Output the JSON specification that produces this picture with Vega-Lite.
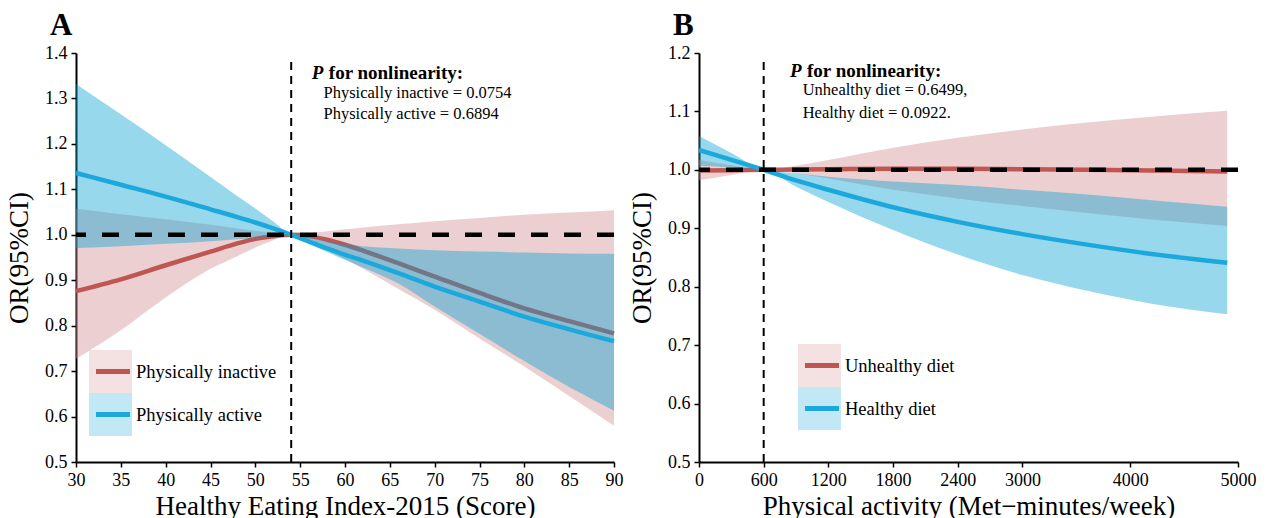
{
  "$schema": "https://vega.github.io/schema/vega-lite/v6.json",
  "background": "white",
  "padding": {"left": 5, "top": 10, "right": 5, "bottom": 0},
  "spacing": 5,
  "config": {
    "font": "Liberation Serif",
    "view": {"stroke": null},
    "axis": {
      "grid": false,
      "domainColor": "black",
      "domainWidth": 2,
      "tickColor": "black",
      "tickWidth": 1.5,
      "tickSize": 5,
      "labelColor": "black",
      "labelFont": "Liberation Serif",
      "labelFontSize": 18,
      "labelPadding": 4,
      "labelFlush": false,
      "titleFont": "Liberation Serif",
      "titleFontSize": 27,
      "titleFontWeight": "normal",
      "titleColor": "black"
    }
  },
  "datasets": {
    "a": [
      {"s": 30, "g": "Physically inactive", "lo": 0.727, "mid": 0.876, "hi": 1.057},
      {"s": 35, "g": "Physically inactive", "lo": 0.790, "mid": 0.902, "hi": 1.045},
      {"s": 40, "g": "Physically inactive", "lo": 0.862, "mid": 0.933, "hi": 1.034},
      {"s": 45, "g": "Physically inactive", "lo": 0.925, "mid": 0.963, "hi": 1.022},
      {"s": 48, "g": "Physically inactive", "lo": 0.953, "mid": 0.981, "hi": 1.014},
      {"s": 50, "g": "Physically inactive", "lo": 0.972, "mid": 0.991, "hi": 1.009},
      {"s": 52, "g": "Physically inactive", "lo": 0.988, "mid": 0.997, "hi": 1.004},
      {"s": 54, "g": "Physically inactive", "lo": 1.0, "mid": 1.0, "hi": 1.0},
      {"s": 56, "g": "Physically inactive", "lo": 0.985, "mid": 0.997, "hi": 1.004},
      {"s": 58, "g": "Physically inactive", "lo": 0.966, "mid": 0.989, "hi": 1.008},
      {"s": 60, "g": "Physically inactive", "lo": 0.946, "mid": 0.978, "hi": 1.012},
      {"s": 62, "g": "Physically inactive", "lo": 0.925, "mid": 0.965, "hi": 1.016},
      {"s": 66, "g": "Physically inactive", "lo": 0.880, "mid": 0.937, "hi": 1.023},
      {"s": 70, "g": "Physically inactive", "lo": 0.835, "mid": 0.908, "hi": 1.030},
      {"s": 75, "g": "Physically inactive", "lo": 0.772, "mid": 0.872, "hi": 1.037},
      {"s": 80, "g": "Physically inactive", "lo": 0.710, "mid": 0.838, "hi": 1.044},
      {"s": 85, "g": "Physically inactive", "lo": 0.645, "mid": 0.810, "hi": 1.049},
      {"s": 90, "g": "Physically inactive", "lo": 0.580, "mid": 0.783, "hi": 1.054},
      {"s": 30, "g": "Physically active", "lo": 0.971, "mid": 1.136, "hi": 1.332},
      {"s": 35, "g": "Physically active", "lo": 0.975, "mid": 1.110, "hi": 1.265},
      {"s": 40, "g": "Physically active", "lo": 0.980, "mid": 1.084, "hi": 1.197},
      {"s": 45, "g": "Physically active", "lo": 0.986, "mid": 1.056, "hi": 1.127},
      {"s": 48, "g": "Physically active", "lo": 0.990, "mid": 1.039, "hi": 1.085},
      {"s": 50, "g": "Physically active", "lo": 0.993, "mid": 1.027, "hi": 1.058},
      {"s": 52, "g": "Physically active", "lo": 0.997, "mid": 1.014, "hi": 1.029},
      {"s": 54, "g": "Physically active", "lo": 1.0, "mid": 1.0, "hi": 1.0},
      {"s": 56, "g": "Physically active", "lo": 0.980, "mid": 0.985, "hi": 0.993},
      {"s": 58, "g": "Physically active", "lo": 0.962, "mid": 0.970, "hi": 0.986},
      {"s": 60, "g": "Physically active", "lo": 0.945, "mid": 0.956, "hi": 0.980},
      {"s": 62, "g": "Physically active", "lo": 0.928, "mid": 0.943, "hi": 0.975},
      {"s": 66, "g": "Physically active", "lo": 0.892, "mid": 0.915, "hi": 0.970},
      {"s": 70, "g": "Physically active", "lo": 0.842, "mid": 0.886, "hi": 0.966},
      {"s": 75, "g": "Physically active", "lo": 0.782, "mid": 0.853, "hi": 0.963},
      {"s": 80, "g": "Physically active", "lo": 0.722, "mid": 0.820, "hi": 0.961},
      {"s": 85, "g": "Physically active", "lo": 0.665, "mid": 0.792, "hi": 0.959},
      {"s": 90, "g": "Physically active", "lo": 0.613, "mid": 0.766, "hi": 0.958}
    ],
    "b": [
      {"p": 0, "g": "Unhealthy diet", "lo": 0.982, "mid": 0.999, "hi": 1.017},
      {"p": 300, "g": "Unhealthy diet", "lo": 0.991, "mid": 0.9995, "hi": 1.008},
      {"p": 600, "g": "Unhealthy diet", "lo": 1.0, "mid": 1.0, "hi": 1.0},
      {"p": 900, "g": "Unhealthy diet", "lo": 0.994, "mid": 1.0005, "hi": 1.007},
      {"p": 1200, "g": "Unhealthy diet", "lo": 0.985, "mid": 1.001, "hi": 1.017},
      {"p": 1800, "g": "Unhealthy diet", "lo": 0.966, "mid": 1.002, "hi": 1.038},
      {"p": 2400, "g": "Unhealthy diet", "lo": 0.951, "mid": 1.002, "hi": 1.055},
      {"p": 3000, "g": "Unhealthy diet", "lo": 0.938, "mid": 1.001, "hi": 1.069},
      {"p": 3600, "g": "Unhealthy diet", "lo": 0.926, "mid": 1.0, "hi": 1.081},
      {"p": 4200, "g": "Unhealthy diet", "lo": 0.915, "mid": 0.999, "hi": 1.091},
      {"p": 4900, "g": "Unhealthy diet", "lo": 0.904, "mid": 0.997, "hi": 1.101},
      {"p": 0, "g": "Healthy diet", "lo": 1.007, "mid": 1.034, "hi": 1.058},
      {"p": 300, "g": "Healthy diet", "lo": 1.004, "mid": 1.017, "hi": 1.029},
      {"p": 600, "g": "Healthy diet", "lo": 1.0, "mid": 1.0, "hi": 1.0},
      {"p": 900, "g": "Healthy diet", "lo": 0.971, "mid": 0.982, "hi": 0.994},
      {"p": 1200, "g": "Healthy diet", "lo": 0.945, "mid": 0.966, "hi": 0.988},
      {"p": 1800, "g": "Healthy diet", "lo": 0.897, "mid": 0.936, "hi": 0.980},
      {"p": 2400, "g": "Healthy diet", "lo": 0.855, "mid": 0.911, "hi": 0.974},
      {"p": 3000, "g": "Healthy diet", "lo": 0.820, "mid": 0.890, "hi": 0.966},
      {"p": 3600, "g": "Healthy diet", "lo": 0.793, "mid": 0.872, "hi": 0.958},
      {"p": 4200, "g": "Healthy diet", "lo": 0.771, "mid": 0.856, "hi": 0.948},
      {"p": 4900, "g": "Healthy diet", "lo": 0.753, "mid": 0.841, "hi": 0.937}
    ]
  },
  "hconcat": [
    {
      "width": 538,
      "height": 409,
      "title": {"text": "A", "anchor": "start", "frame": "group", "dx": -26, "fontSize": 31, "fontWeight": "bold", "font": "Liberation Serif", "color": "black", "offset": 2},
      "layer": [
        {
          "data": {"name": "a"},
          "transform": [{"filter": "datum.g == 'Physically inactive'"}],
          "mark": {"type": "area", "fillOpacity": 0.42, "interpolate": "monotone"},
          "encoding": {
            "x": {"field": "s", "type": "quantitative", "scale": {"domain": [30, 90], "nice": false, "zero": false},
                  "axis": {"values": [30, 35, 40, 45, 50, 55, 60, 65, 70, 75, 80, 85, 90], "title": "Healthy Eating Index-2015 (Score)", "titlePadding": 4}},
            "y": {"field": "lo", "type": "quantitative", "scale": {"domain": [0.5, 1.4], "nice": false, "zero": false},
                  "axis": {"values": [0.5, 0.6, 0.7, 0.8, 0.9, 1.0, 1.1, 1.2, 1.3, 1.4], "format": ".1f", "title": "OR(95%CI)", "titlePadding": 11}},
            "y2": {"field": "hi"},
            "fill": {"field": "g", "type": "nominal",
                     "scale": {"domain": ["Physically inactive", "Physically active"], "range": ["#D28D8F", "#07A2D2"]},
                     "legend": {"orient": "none", "legendX": 13, "legendY": 297, "title": null, "symbolType": "square", "symbolSize": 1849, "symbolOpacity": 0.25, "symbolStrokeWidth": 0, "labelFontSize": 18.5, "labelFont": "Liberation Serif", "labelColor": "black", "labelOffset": 4, "rowPadding": 0, "padding": 0, "labelLimit": 400}}
          }
        },
        {
          "data": {"name": "a"},
          "transform": [{"filter": "datum.g == 'Physically inactive'"}],
          "mark": {"type": "line", "strokeWidth": 4.5, "interpolate": "monotone"},
          "encoding": {
            "x": {"field": "s", "type": "quantitative", "scale": {"domain": [30, 90], "nice": false, "zero": false},
                  "axis": {"values": [30, 35, 40, 45, 50, 55, 60, 65, 70, 75, 80, 85, 90], "title": "Healthy Eating Index-2015 (Score)", "titlePadding": 4}},
            "y": {"field": "mid", "type": "quantitative", "scale": {"domain": [0.5, 1.4], "nice": false, "zero": false},
                  "axis": {"values": [0.5, 0.6, 0.7, 0.8, 0.9, 1.0, 1.1, 1.2, 1.3, 1.4], "format": ".1f", "title": "OR(95%CI)", "titlePadding": 11}},
            "stroke": {"field": "g", "type": "nominal", "sort": "descending",
                       "scale": {"range": ["#BF5652", "#1BA8DC"]},
                       "legend": {"orient": "none", "legendX": 17.5, "legendY": 297, "title": null, "symbolType": "stroke", "symbolSize": 1156, "symbolStrokeWidth": 5, "labelOpacity": 0, "labelFontSize": 18.5, "clipHeight": 43, "rowPadding": 0, "padding": 0}}
          }
        },
        {
          "data": {"name": "a"},
          "transform": [{"filter": "datum.g == 'Physically active'"}],
          "mark": {"type": "area", "fillOpacity": 0.42, "interpolate": "monotone"},
          "encoding": {
            "x": {"field": "s", "type": "quantitative", "scale": {"domain": [30, 90], "nice": false, "zero": false},
                  "axis": {"values": [30, 35, 40, 45, 50, 55, 60, 65, 70, 75, 80, 85, 90], "title": "Healthy Eating Index-2015 (Score)", "titlePadding": 4}},
            "y": {"field": "lo", "type": "quantitative", "scale": {"domain": [0.5, 1.4], "nice": false, "zero": false},
                  "axis": {"values": [0.5, 0.6, 0.7, 0.8, 0.9, 1.0, 1.1, 1.2, 1.3, 1.4], "format": ".1f", "title": "OR(95%CI)", "titlePadding": 11}},
            "y2": {"field": "hi"},
            "fill": {"field": "g", "type": "nominal",
                     "scale": {"domain": ["Physically inactive", "Physically active"], "range": ["#D28D8F", "#07A2D2"]}}
          }
        },
        {
          "data": {"name": "a"},
          "transform": [{"filter": "datum.g == 'Physically active'"}],
          "mark": {"type": "line", "strokeWidth": 4.5, "interpolate": "monotone"},
          "encoding": {
            "x": {"field": "s", "type": "quantitative", "scale": {"domain": [30, 90], "nice": false, "zero": false},
                  "axis": {"values": [30, 35, 40, 45, 50, 55, 60, 65, 70, 75, 80, 85, 90], "title": "Healthy Eating Index-2015 (Score)", "titlePadding": 4}},
            "y": {"field": "mid", "type": "quantitative", "scale": {"domain": [0.5, 1.4], "nice": false, "zero": false},
                  "axis": {"values": [0.5, 0.6, 0.7, 0.8, 0.9, 1.0, 1.1, 1.2, 1.3, 1.4], "format": ".1f", "title": "OR(95%CI)", "titlePadding": 11}},
            "stroke": {"field": "g", "type": "nominal", "sort": "descending",
                       "scale": {"range": ["#BF5652", "#1BA8DC"]}}
          }
        },
        {
          "data": {"values": [{}]},
          "mark": {"type": "rule", "color": "black", "strokeWidth": 4.5, "strokeDash": [17, 16]},
          "encoding": {"y": {"datum": 1}}
        },
        {
          "data": {"values": [{}]},
          "mark": {"type": "rule", "color": "black", "strokeWidth": 2, "strokeDash": [8, 6]},
          "encoding": {"x": {"datum": 54}, "y": {"datum": 0.5}, "y2": {"datum": 1.387}}
        },
        {
          "data": {"values": [{}]},
          "mark": {"type": "text", "text": "P", "fill": "black", "fontStyle": "italic", "fontWeight": "bold", "fontSize": 19, "align": "left", "baseline": "middle"},
          "encoding": {"x": {"datum": 56.3}, "y": {"datum": 1.356}}
        },
        {
          "data": {"values": [{}]},
          "mark": {"type": "text", "text": "for nonlinearity:", "fill": "black", "fontWeight": "bold", "fontSize": 19, "align": "left", "baseline": "middle", "dx": 17},
          "encoding": {"x": {"datum": 56.3}, "y": {"datum": 1.356}}
        },
        {
          "data": {"values": [{}]},
          "mark": {"type": "text", "text": "Physically inactive = 0.0754", "fill": "black", "fontWeight": "normal", "fontSize": 16.5, "align": "left", "baseline": "middle"},
          "encoding": {"x": {"datum": 57.6}, "y": {"datum": 1.313}}
        },
        {
          "data": {"values": [{}]},
          "mark": {"type": "text", "text": "Physically active = 0.6894", "fill": "black", "fontWeight": "normal", "fontSize": 16.5, "align": "left", "baseline": "middle"},
          "encoding": {"x": {"datum": 57.6}, "y": {"datum": 1.266}}
        }
      ]
    },
    {
      "width": 539,
      "height": 409,
      "title": {"text": "B", "anchor": "start", "frame": "group", "dx": -26, "fontSize": 31, "fontWeight": "bold", "font": "Liberation Serif", "color": "black", "offset": 2},
      "layer": [
        {
          "data": {"name": "b"},
          "transform": [{"filter": "datum.g == 'Unhealthy diet'"}],
          "mark": {"type": "area", "fillOpacity": 0.42, "interpolate": "monotone"},
          "encoding": {
            "x": {"field": "p", "type": "quantitative", "scale": {"domain": [0, 5000], "nice": false, "zero": false},
                  "axis": {"values": [0, 600, 1200, 1800, 2400, 3000, 4000, 5000], "format": "d", "title": "Physical activity (Met−minutes/week)", "titlePadding": 4}},
            "y": {"field": "lo", "type": "quantitative", "scale": {"domain": [0.5, 1.2], "nice": false, "zero": false},
                  "axis": {"values": [0.5, 0.6, 0.7, 0.8, 0.9, 1.0, 1.1, 1.2], "format": ".1f", "title": "OR(95%CI)", "titlePadding": 11}},
            "y2": {"field": "hi"},
            "fill": {"field": "g", "type": "nominal",
                     "scale": {"domain": ["Unhealthy diet", "Healthy diet"], "range": ["#D28D8F", "#07A2D2"]},
                     "legend": {"orient": "none", "legendX": 99, "legendY": 291, "title": null, "symbolType": "square", "symbolSize": 1849, "symbolOpacity": 0.25, "symbolStrokeWidth": 0, "labelFontSize": 18.5, "labelFont": "Liberation Serif", "labelColor": "black", "labelOffset": 4, "rowPadding": 0, "padding": 0, "labelLimit": 400}}
          }
        },
        {
          "data": {"name": "b"},
          "transform": [{"filter": "datum.g == 'Unhealthy diet'"}],
          "mark": {"type": "line", "strokeWidth": 4.5, "interpolate": "monotone"},
          "encoding": {
            "x": {"field": "p", "type": "quantitative", "scale": {"domain": [0, 5000], "nice": false, "zero": false},
                  "axis": {"values": [0, 600, 1200, 1800, 2400, 3000, 4000, 5000], "format": "d", "title": "Physical activity (Met−minutes/week)", "titlePadding": 4}},
            "y": {"field": "mid", "type": "quantitative", "scale": {"domain": [0.5, 1.2], "nice": false, "zero": false},
                  "axis": {"values": [0.5, 0.6, 0.7, 0.8, 0.9, 1.0, 1.1, 1.2], "format": ".1f", "title": "OR(95%CI)", "titlePadding": 11}},
            "stroke": {"field": "g", "type": "nominal", "sort": "descending",
                       "scale": {"range": ["#BF5652", "#1BA8DC"]},
                       "legend": {"orient": "none", "legendX": 103.5, "legendY": 291, "title": null, "symbolType": "stroke", "symbolSize": 1156, "symbolStrokeWidth": 5, "labelOpacity": 0, "labelFontSize": 18.5, "clipHeight": 43, "rowPadding": 0, "padding": 0}}
          }
        },
        {
          "data": {"name": "b"},
          "transform": [{"filter": "datum.g == 'Healthy diet'"}],
          "mark": {"type": "area", "fillOpacity": 0.42, "interpolate": "monotone"},
          "encoding": {
            "x": {"field": "p", "type": "quantitative", "scale": {"domain": [0, 5000], "nice": false, "zero": false},
                  "axis": {"values": [0, 600, 1200, 1800, 2400, 3000, 4000, 5000], "format": "d", "title": "Physical activity (Met−minutes/week)", "titlePadding": 4}},
            "y": {"field": "lo", "type": "quantitative", "scale": {"domain": [0.5, 1.2], "nice": false, "zero": false},
                  "axis": {"values": [0.5, 0.6, 0.7, 0.8, 0.9, 1.0, 1.1, 1.2], "format": ".1f", "title": "OR(95%CI)", "titlePadding": 11}},
            "y2": {"field": "hi"},
            "fill": {"field": "g", "type": "nominal",
                     "scale": {"domain": ["Unhealthy diet", "Healthy diet"], "range": ["#D28D8F", "#07A2D2"]}}
          }
        },
        {
          "data": {"name": "b"},
          "transform": [{"filter": "datum.g == 'Healthy diet'"}],
          "mark": {"type": "line", "strokeWidth": 4.5, "interpolate": "monotone"},
          "encoding": {
            "x": {"field": "p", "type": "quantitative", "scale": {"domain": [0, 5000], "nice": false, "zero": false},
                  "axis": {"values": [0, 600, 1200, 1800, 2400, 3000, 4000, 5000], "format": "d", "title": "Physical activity (Met−minutes/week)", "titlePadding": 4}},
            "y": {"field": "mid", "type": "quantitative", "scale": {"domain": [0.5, 1.2], "nice": false, "zero": false},
                  "axis": {"values": [0.5, 0.6, 0.7, 0.8, 0.9, 1.0, 1.1, 1.2], "format": ".1f", "title": "OR(95%CI)", "titlePadding": 11}},
            "stroke": {"field": "g", "type": "nominal", "sort": "descending",
                       "scale": {"range": ["#BF5652", "#1BA8DC"]}}
          }
        },
        {
          "data": {"values": [{}]},
          "mark": {"type": "rule", "color": "black", "strokeWidth": 4.5, "strokeDash": [17, 16]},
          "encoding": {"y": {"datum": 1}}
        },
        {
          "data": {"values": [{}]},
          "mark": {"type": "rule", "color": "black", "strokeWidth": 2, "strokeDash": [8, 6]},
          "encoding": {"x": {"datum": 600}, "y": {"datum": 0.5}, "y2": {"datum": 1.187}}
        },
        {
          "data": {"values": [{}]},
          "mark": {"type": "text", "text": "P", "fill": "black", "fontStyle": "italic", "fontWeight": "bold", "fontSize": 19, "align": "left", "baseline": "middle"},
          "encoding": {"x": {"datum": 844}, "y": {"datum": 1.170}}
        },
        {
          "data": {"values": [{}]},
          "mark": {"type": "text", "text": "for nonlinearity:", "fill": "black", "fontWeight": "bold", "fontSize": 19, "align": "left", "baseline": "middle", "dx": 17},
          "encoding": {"x": {"datum": 844}, "y": {"datum": 1.170}}
        },
        {
          "data": {"values": [{}]},
          "mark": {"type": "text", "text": "Unhealthy diet = 0.6499,", "fill": "black", "fontWeight": "normal", "fontSize": 16.5, "align": "left", "baseline": "middle"},
          "encoding": {"x": {"datum": 962}, "y": {"datum": 1.137}}
        },
        {
          "data": {"values": [{}]},
          "mark": {"type": "text", "text": "Healthy diet = 0.0922.", "fill": "black", "fontWeight": "normal", "fontSize": 16.5, "align": "left", "baseline": "middle"},
          "encoding": {"x": {"datum": 962}, "y": {"datum": 1.098}}
        }
      ]
    }
  ],
  "resolve": {
    "scale": {"fill": "independent", "stroke": "independent"},
    "legend": {"fill": "independent", "stroke": "independent"}
  }
}
